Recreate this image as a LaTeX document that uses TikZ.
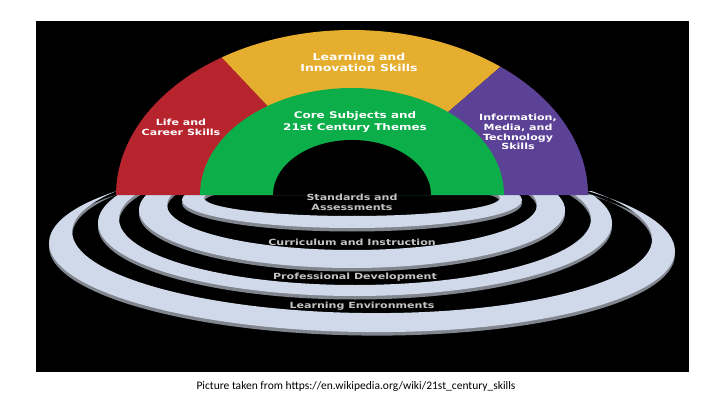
\documentclass[tikz,border=0pt]{standalone}
\usepackage{fontspec}
\setmainfont{Carlito}
\newfontfamily\skillfont[FakeStretch=1.3]{DejaVu Sans}
\usetikzlibrary{positioning}
\definecolor{lifered}{RGB}{183,36,46}
\definecolor{learnyellow}{RGB}{230,174,46}
\definecolor{coregreen}{RGB}{12,174,74}
\definecolor{infopurple}{RGB}{92,66,150}
\definecolor{ringblue}{RGB}{208,217,233}
\definecolor{ringshadow}{RGB}{128,133,142}
\definecolor{ringtext}{RGB}{195,195,195}
\tikzstyle{skill}=[text=white, align=center, inner sep=0pt]
\tikzstyle{support}=[text=ringtext, align=center, inner sep=0pt, font=\skillfont\bfseries\fontsize{8.5}{10.5}\selectfont]

\begin{document}
\begin{tikzpicture}[x=1pt, y=1pt]

  \useasboundingbox (0,0) rectangle (720,405);
  \fill[white] (0,0) rectangle (720,405);
  \fill[black] (36,33) rectangle (689,384);

  % support rings
  \foreach \cx/\ocy/\orx/\ory/\icy/\irx/\iry/\cut/\tilt in {
      362/158/313/85/169.5/290/77.5/214/-0.8,
      355/182/257/73/186/236/66/210/0,
      352/195/213/58/200/185/45/210/0,
      352/205/170/28/207/148/18/210/0}
  {
    \begin{scope}
      \clip (36,33) rectangle (689,\cut);
      \begin{scope}[rotate around={\tilt:(\cx,\ocy)}]
        \fill[ringshadow, even odd rule, yshift=-3.5pt] (\cx,\ocy) ellipse[x radius=\orx, y radius=\ory]
             (\cx,\icy) ellipse[x radius=\irx, y radius=\iry];
        \fill[ringblue, even odd rule] (\cx,\ocy) ellipse[x radius=\orx, y radius=\ory]
             (\cx,\icy) ellipse[x radius=\irx, y radius=\iry];
      \end{scope}
    \end{scope}
  }

  % skills arch
  \coordinate (c) at (352,210);
  \foreach \a/\b/\col in {180/123.5/lifered, 123.5/51/learnyellow, 51/0/infopurple}
    \fill[\col] (c) -- +(\a:236 and 165) arc[start angle=\a, end angle=\b, x radius=236, y radius=165] -- cycle;
  \fill[coregreen] (c) -- +(180:152 and 107) arc[start angle=180, end angle=0, x radius=152, y radius=107] -- cycle;
  \fill[black] (c) -- +(180:79 and 55) arc[start angle=180, end angle=0, x radius=79, y radius=55] -- cycle;

  \node[skill, font=\skillfont\bfseries\fontsize{9.6}{11}\selectfont] (learn) at (359,343) {Learning and\\Innovation Skills};
  \node[skill, font=\skillfont\bfseries\fontsize{8.5}{10}\selectfont] (life) at (181,278) {Life and\\Career Skills};
  \node[skill, font=\skillfont\bfseries\fontsize{9.2}{12}\selectfont] (core) at (355,283) {Core Subjects and\\21st Century Themes};
  \node[skill, font=\skillfont\bfseries\fontsize{8.5}{9.8}\selectfont] (info) at (518,273) {Information,\\Media, and\\Technology\\Skills};

  \node[support] (standards) at (352,202.5) {Standards and\\Assessments};
  \node[support] (curriculum) at (352,163) {Curriculum and Instruction};
  \node[support] (professional) at (355,128) {Professional Development};
  \node[support] (environments) at (362,99) {Learning Environments};

  \node[font=\fontsize{11.5}{13}\selectfont] (source) at (356,19) {Picture taken from https://en.wikipedia.org/wiki/21st\_century\_skills};

\end{tikzpicture}
\end{document}
